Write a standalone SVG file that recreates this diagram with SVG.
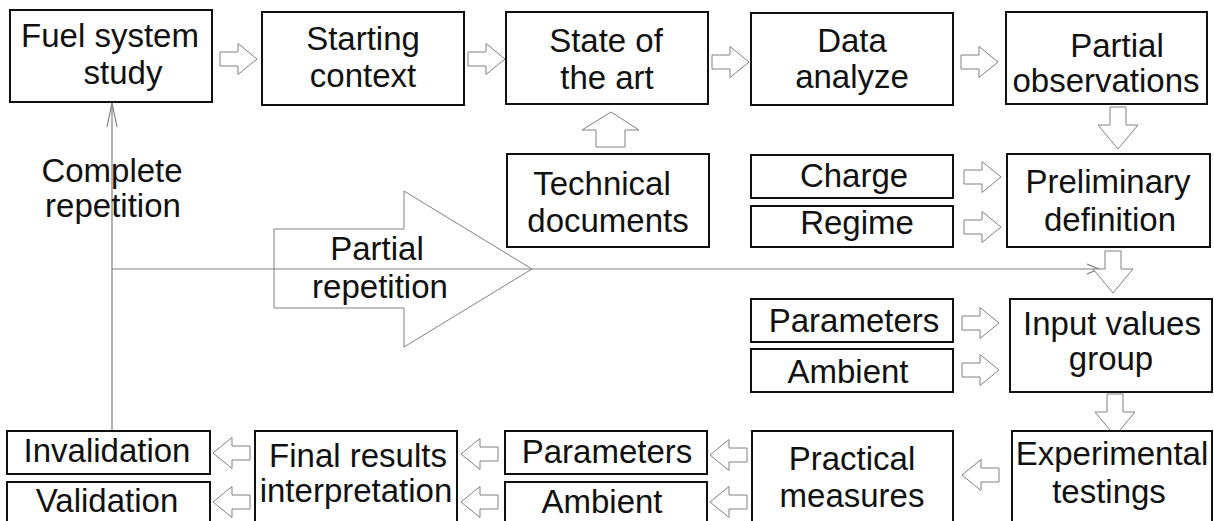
<svg xmlns="http://www.w3.org/2000/svg" width="1214" height="521" viewBox="0 0 1214 521">
<style>
.box{fill:#fff;stroke:#111;stroke-width:2}
.t{font-family:"Liberation Sans",Arial,sans-serif;font-size:33px;fill:#111;text-anchor:middle}
.ha{fill:#fff;stroke:#808080;stroke-width:1}
.ln{fill:none;stroke:#808080;stroke-width:1.2}
</style>
<defs>
<path id="ra" d="M0,-7 H18 V-15.5 L37,0 L18,15.5 V7 H0 Z"/>
<path id="la" d="M0,0 L19,-15.5 V-7 H37 V7 H19 V15.5 Z"/>
<path id="da" d="M-8,0 H8 V18 H20 L0,42 L-20,18 H-8 Z"/>
<marker id="open" markerWidth="14" markerHeight="12" refX="12" refY="6" orient="auto" markerUnits="userSpaceOnUse">
<path d="M0,1 L12,6 L0,11" fill="none" stroke="#808080" stroke-width="1.2"/>
</marker>
<marker id="openup" markerWidth="26" markerHeight="14" refX="24" refY="6" orient="auto" markerUnits="userSpaceOnUse">
<path d="M0,1 L24,6 L0,11" fill="none" stroke="#808080" stroke-width="1.2"/>
</marker>
</defs>

<g id="partial-repetition">
<polygon class="ha" points="274,229 404,229 404,191 532,269 404,347 404,308 274,308"/>
<text class="t" x="377" y="260">Partial</text>
<text class="t" x="380" y="298">repetition</text>
</g>

<g id="connectors">
<line class="ln" x1="112" y1="431" x2="112" y2="103" marker-end="url(#openup)"/>
<line class="ln" x1="112" y1="269" x2="1099" y2="269" marker-end="url(#open)"/>
<use href="#ra" class="ha" x="220" y="59"/>
<use href="#ra" class="ha" x="468" y="59"/>
<use href="#ra" class="ha" x="712" y="62"/>
<use href="#ra" class="ha" x="961" y="62"/>
<use href="#ra" class="ha" x="964" y="177"/>
<use href="#ra" class="ha" x="964" y="227"/>
<use href="#ra" class="ha" x="962" y="323"/>
<use href="#ra" class="ha" x="962" y="370"/>
<use href="#la" class="ha" x="962" y="475"/>
<use href="#la" class="ha" x="710" y="455"/>
<use href="#la" class="ha" x="710" y="502"/>
<use href="#la" class="ha" x="461" y="454"/>
<use href="#la" class="ha" x="461" y="502"/>
<use href="#la" class="ha" x="213" y="453"/>
<use href="#la" class="ha" x="213" y="502"/>
<use href="#da" class="ha" x="1118" y="107"/>
<use href="#da" class="ha" x="1113" y="251"/>
<use href="#da" class="ha" x="1115" y="394"/>
<path class="ha" d="M596,147 V130 H582 L611,112 L639,130 H625 V147 Z"/>
</g>

<g id="complete-repetition">
<text class="t" x="112" y="182">Complete</text>
<text class="t" x="113" y="217">repetition</text>
</g>

<g id="fuel-system-study"><rect class="box" x="10" y="10" width="202" height="92"/>
<text class="t" x="110" y="47">Fuel system</text><text class="t" x="123" y="84">study</text></g>

<g id="starting-context"><rect class="box" x="262" y="12" width="202" height="93"/>
<text class="t" x="363" y="50">Starting</text><text class="t" x="363" y="87">context</text></g>

<g id="state-of-the-art"><rect class="box" x="506" y="12" width="202" height="92"/>
<text class="t" x="606" y="52">State of</text><text class="t" x="607" y="89">the art</text></g>

<g id="data-analyze"><rect class="box" x="751" y="13" width="202" height="92"/>
<text class="t" x="852" y="52">Data</text><text class="t" x="852" y="88">analyze</text></g>

<g id="partial-observations"><rect class="box" x="1006" y="12" width="201" height="92"/>
<text class="t" x="1117" y="57">Partial</text><text class="t" x="1106" y="92">observations</text></g>

<g id="technical-documents"><rect class="box" x="507" y="154" width="202" height="93"/>
<text class="t" x="602" y="195">Technical</text><text class="t" x="608" y="232">documents</text></g>

<g id="charge"><rect class="box" x="751" y="155" width="202" height="43"/>
<text class="t" x="854" y="187">Charge</text></g>

<g id="regime"><rect class="box" x="751" y="206" width="202" height="41"/>
<text class="t" x="857" y="234">Regime</text></g>

<g id="preliminary-definition"><rect class="box" x="1007" y="154" width="203" height="93"/>
<text class="t" x="1108" y="193">Preliminary</text><text class="t" x="1110" y="231">definition</text></g>

<g id="parameters-in"><rect class="box" x="751" y="299" width="202" height="43"/>
<text class="t" x="854" y="332">Parameters</text></g>

<g id="ambient-in"><rect class="box" x="751" y="349" width="202" height="43"/>
<text class="t" x="848" y="383">Ambient</text></g>

<g id="input-values-group"><rect class="box" x="1010" y="299" width="202" height="93"/>
<text class="t" x="1112" y="335">Input values</text><text class="t" x="1111" y="370">group</text></g>

<g id="experimental-testings"><rect class="box" x="1012" y="431" width="200" height="110"/>
<text class="t" x="1112" y="465">Experimental</text><text class="t" x="1109" y="503">testings</text></g>

<g id="practical-measures"><rect class="box" x="752" y="431" width="201" height="110"/>
<text class="t" x="852" y="470">Practical</text><text class="t" x="852" y="507">measures</text></g>

<g id="parameters-out"><rect class="box" x="505" y="431" width="202" height="43"/>
<text class="t" x="607" y="463">Parameters</text></g>

<g id="ambient-out"><rect class="box" x="505" y="482" width="202" height="60"/>
<text class="t" x="602" y="513">Ambient</text></g>

<g id="final-results-interpretation"><rect class="box" x="255" y="431" width="202" height="110"/>
<text class="t" x="358" y="467">Final results</text><text class="t" x="356" y="502">interpretation</text></g>

<g id="invalidation"><rect class="box" x="7" y="431" width="203" height="43"/>
<text class="t" x="107" y="462">Invalidation</text></g>

<g id="validation"><rect class="box" x="7" y="482" width="203" height="60"/>
<text class="t" x="107" y="512">Validation</text></g>
</svg>
